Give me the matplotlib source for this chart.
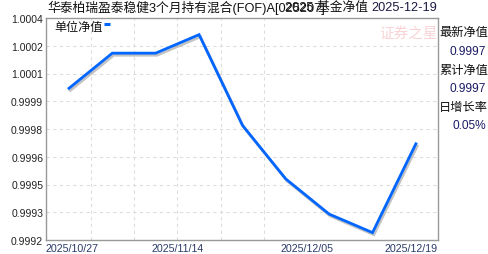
import matplotlib
matplotlib.use('Agg')
import matplotlib.pyplot as plt
import matplotlib.patheffects as pe
import numpy as np

# fund data
fund_name = '华泰柏瑞盈泰稳健3个月持有混合(FOF)A[025207]'
nav_date = '2025-12-19'
nav = [1.00002, 1.00021, 1.00021, 1.00031, 0.99982, 0.99953, 0.99934, 0.99924, 0.99972]
x_labels = ['2025/10/27', '2025/11/14', '2025/12/05', '2025/12/19']
y_labels = ['0.9992', '0.9993', '0.9995', '0.9996', '0.9998', '0.9999', '1.0001', '1.0002', '1.0004']
side_names = ['最新净值', '累计净值', '日增长率']
side_values = ['0.9997', '0.9997', '0.05%']

fonts = ['Liberation Sans', 'Noto Sans CJK SC', 'DejaVu Sans']
plt.rcParams['font.family'] = fonts

W, H = 488, 255
fig = plt.figure(figsize=(W / 100, H / 100), dpi=100)
ax = fig.add_axes([46 / W, (H - 241) / H, (438 - 46) / W, (241 - 19) / H])

x = np.arange(len(nav))
xmin, xmax = -0.53, len(nav) - 1 + 0.51
ax.plot(x, nav, color='#0066ff', lw=2.0, solid_joinstyle='miter',
        path_effects=[pe.SimpleLineShadow(offset=(1, -1.5), shadow_color='#888888', alpha=0.5),
                      pe.Normal()])

ax.set_xlim(xmin, xmax)
ax.set_ylim(0.9992, 1.0004)
yt = np.linspace(0.9992, 1.0004, len(y_labels))
ax.set_yticks(yt)
ax.set_yticklabels(y_labels, fontsize=7.5, color='#222222')
ax.set_xticks([xmin, 2.5, 5.5, xmax])
ax.set_xticklabels(x_labels, fontsize=7.7, color='#2b3a6b')
ticks = ax.get_xticklabels()
ticks[0].set_ha('left')
ticks[-1].set_ha('right')
ax.tick_params(length=0, pad=2)

# grid
for v in yt[1:-1]:
    ax.axhline(v, color='#dddddd', lw=0.8, ls=(0, (3, 3)), zorder=0)
for v in np.arange(0.5, 5.0, 1.0):
    ax.axvline(v, color='#dddddd', lw=0.8, ls=(0, (3, 3)), zorder=0)

for s in ax.spines.values():
    s.set_color('#999999')
    s.set_linewidth(1.0)

# legend inside
ax.text(8 / 392, 1 - 9 / 222, '单位净值', transform=ax.transAxes, fontsize=8.7,
        va='center', ha='left', color='#111111')
ax.plot([58 / 392, 64 / 392], [1 - 6 / 222, 1 - 6 / 222], transform=ax.transAxes,
        color='#0066ff', lw=2.2, solid_capstyle='butt')

# watermark
ax.text(0.925, 0.935, '证券之星', transform=ax.transAxes, fontsize=10.5, ha='center',
        va='center', color='#f9d3d6', style='italic', zorder=0)

# titles
fig.text(47 / W, 1 - 8 / H, fund_name, fontsize=9.2, ha='left', va='center', color='#111111')
fig.text(285 / W, 1 - 8 / H, '2025 基金净值', fontsize=9.2, ha='left', va='center', color='#111111')
fig.text(437 / W, 1 - 8 / H, nav_date, fontsize=9.2, ha='right', va='center', color='#1a1a40')

# side panel
name_y = [33, 71, 108]
val_y = [52, 89, 126]
for n, v, ny, vy in zip(side_names, side_values, name_y, val_y):
    fig.text(439 / W, 1 - ny / H, n, fontsize=8.8, ha='left', va='center', color='#111111')
    fig.text(486 / W, 1 - vy / H, v, fontsize=8.6, ha='right', va='center', color='#1a1a66')

fig.savefig('out.png', dpi=100, facecolor='white')
